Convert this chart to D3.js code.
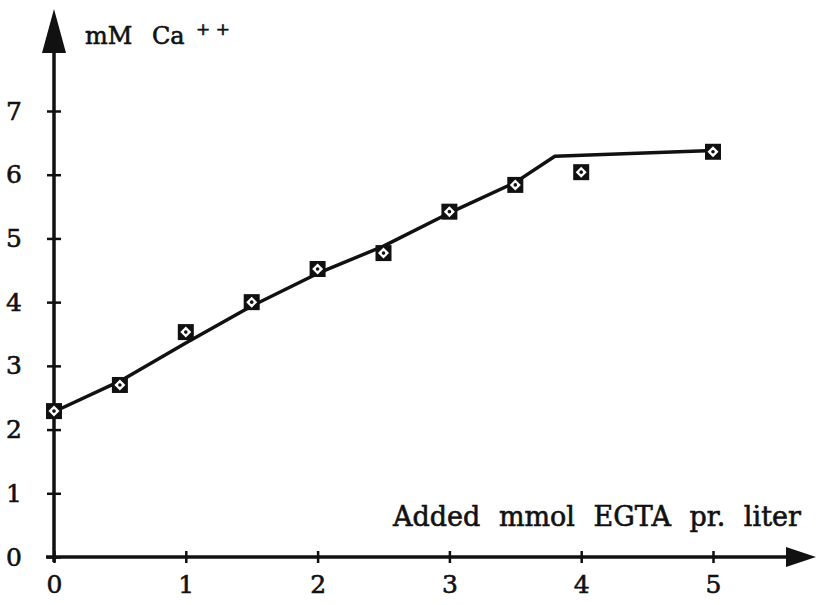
<!DOCTYPE html>
<html>
<head>
<meta charset="utf-8">
<script src="https://cdn.jsdelivr.net/npm/d3@7"></script>
<style>
  body { margin: 0; background: #fff; }
  text { font-family: "DejaVu Serif", "Liberation Serif", serif; fill: #111; stroke: #111; stroke-width: 0.6px; }
</style>
</head>
<body>
<svg width="820" height="605"></svg>
<script>
// measured points (added EGTA, mM Ca++)
var egta = [0, 0.5, 1, 1.5, 2, 2.5, 3, 3.5, 4, 5];
var calcium = [2.29, 2.70, 3.53, 4.0, 4.52, 4.77, 5.42, 5.84, 6.04, 6.36];

// fitted curve
var fitX = [0, 0.5, 1, 1.5, 2, 2.5, 3, 3.5, 3.8, 5];
var fitY = [2.28, 2.76, 3.36, 3.94, 4.45, 4.88, 5.40, 5.88, 6.29, 6.38];

var xTicks = [0, 1, 2, 3, 4, 5];
var yTicks = [0, 1, 2, 3, 4, 5, 6, 7];

var svg = d3.select("svg");

var x = d3.scaleLinear().domain([0, 5]).range([54, 713]),
    y = d3.scaleLinear().domain([0, 7]).range([557, 111]);

var ink = "#111";

// axes lines with arrows
svg.append("line")
    .attr("x1", x(0) - 8).attr("y1", y(0))
    .attr("x2", 790).attr("y2", y(0))
    .attr("stroke", ink).attr("stroke-width", 3.5);
svg.append("path")
    .attr("d", "M816," + y(0) + "L786," + (y(0) - 10) + "L786," + (y(0) + 10) + "Z")
    .attr("fill", ink);

svg.append("line")
    .attr("x1", x(0)).attr("y1", y(0) + 5)
    .attr("x2", x(0)).attr("y2", 40)
    .attr("stroke", ink).attr("stroke-width", 3.5);
svg.append("path")
    .attr("d", "M" + x(0) + ",9L" + (x(0) - 12) + ",53L" + (x(0) + 12) + ",53Z")
    .attr("fill", ink);

// ticks and labels through d3 axes
var gx = svg.append("g")
    .attr("transform", "translate(0," + y(0) + ")")
    .call(d3.axisBottom(x).tickValues(xTicks).tickSizeOuter(0).tickSizeInner(6).tickPadding(14)
      .tickFormat(d3.format("d")));
gx.select(".domain").remove();
gx.selectAll(".tick line").attr("y1", -6).attr("y2", 6)
    .attr("stroke", ink).attr("stroke-width", 2.5);
gx.selectAll(".tick text").attr("font-size", 25).attr("font-family", "DejaVu Serif").attr("fill", ink)
    .attr("dy", "0.62em");

var gy = svg.append("g")
    .attr("transform", "translate(" + x(0) + ",0)")
    .call(d3.axisLeft(y).tickValues(yTicks).tickSizeOuter(0).tickSizeInner(6).tickPadding(26)
      .tickFormat(d3.format("d")));
gy.select(".domain").remove();
gy.selectAll(".tick line").attr("x1", -7).attr("x2", 7)
    .attr("stroke", ink).attr("stroke-width", 2.5);
gy.selectAll(".tick text").attr("font-size", 25).attr("font-family", "DejaVu Serif").attr("fill", ink);

// axis titles
svg.append("text")
    .attr("x", 85).attr("y", 44)
    .attr("font-size", 24)
    .style("word-spacing", "12px")
    .text("mM Ca");
svg.append("text")
    .attr("x", 196).attr("y", 35)
    .attr("font-size", 17)
    .style("white-space", "pre")
    .text("+ +");

svg.append("text")
    .attr("x", 393).attr("y", 526)
    .attr("font-size", 27)
    .style("word-spacing", "10px")
    .text("Added mmol EGTA pr. liter");

// fitted line
var line = d3.line()
    .x(function(d) { return x(d[0]); })
    .y(function(d) { return y(d[1]); });

svg.append("path")
    .datum(d3.zip(fitX, fitY))
    .attr("d", line)
    .attr("fill", "none")
    .attr("stroke", ink)
    .attr("stroke-width", 3.5)
    .attr("stroke-linejoin", "round");

// markers
var pts = svg.selectAll(".pt")
    .data(d3.zip(egta, calcium))
    .enter().append("g")
      .attr("class", "pt")
      .attr("transform", function(d) { return "translate(" + x(d[0]) + "," + y(d[1]) + ")"; });

pts.append("rect")
    .attr("x", -8).attr("y", -8)
    .attr("width", 16).attr("height", 16)
    .attr("fill", ink);
pts.append("path")
    .attr("d", "M0,-5.5L5.5,0L0,5.5L-5.5,0Z")
    .attr("fill", "#fff");
pts.append("circle")
    .attr("r", 1.8)
    .attr("fill", ink);
</script>
</body>
</html>
